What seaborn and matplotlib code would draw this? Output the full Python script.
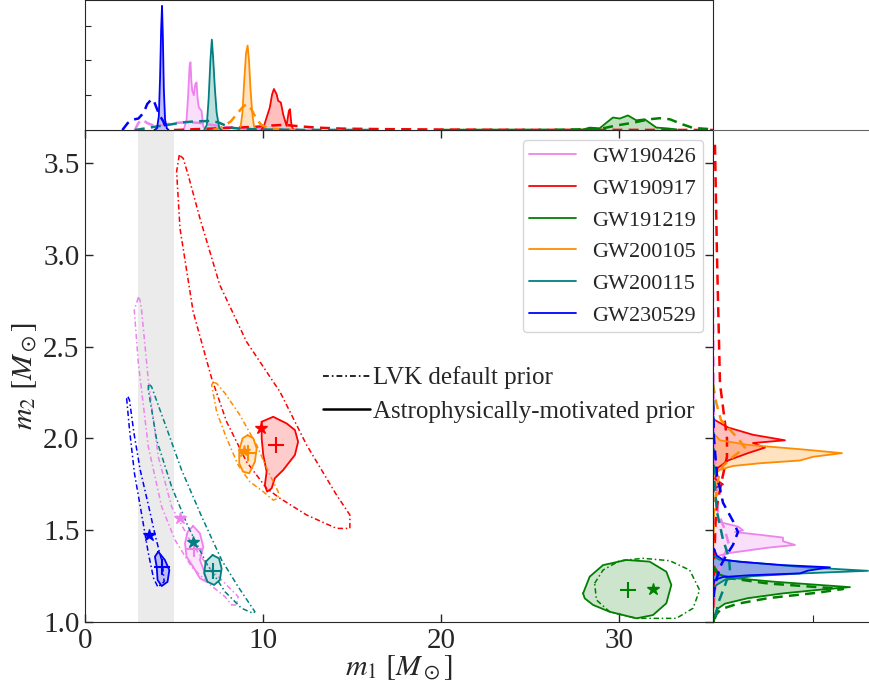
import numpy as np
import matplotlib
matplotlib.use('Agg')
import matplotlib.pyplot as plt
import seaborn as sns
from matplotlib.lines import Line2D

sns.set_style('ticks')
plt.rcParams['font.family'] = ['Liberation Serif', 'DejaVu Serif']
plt.rcParams['mathtext.fontset'] = 'stix'

# ---------------- data ----------------
events = ['GW190426', 'GW190917', 'GW191219', 'GW200105', 'GW200115', 'GW230529']
colors = ['violet', 'red', 'green', 'darkorange', 'teal', 'blue']

# 90% credible contours (m1, m2) - astrophysically-motivated prior (solid, filled)
astro_m1 = {
    'GW190426': [6.08, 6.46, 6.65, 6.46, 6.74, 6.83, 6.46, 6.08, 5.71, 5.62, 5.77],
    'GW190917': [9.93, 10.58, 11.33, 11.80, 11.98, 11.80, 11.14, 10.67, 10.49, 10.24, 10.11, 10.21, 10.02, 9.93],
    'GW191219': [28.0, 28.37, 29.12, 30.43, 31.74, 32.68, 32.96, 32.68, 31.93, 31.0, 29.49, 28.56, 28.09],
    'GW200105': [9.14, 9.46, 9.65, 9.55, 9.23, 8.89, 8.67, 8.67, 8.86],
    'GW200115': [7.17, 7.53, 7.68, 7.58, 7.26, 6.89, 6.70, 6.78],
    'GW230529': [4.12, 4.49, 4.74, 4.64, 4.31, 4.08, 4.03, 3.93],
}
astro_m2 = {
    'GW190426': [1.523, 1.483, 1.410, 1.338, 1.265, 1.219, 1.238, 1.301, 1.356, 1.429, 1.492],
    'GW190917': [2.091, 2.118, 2.082, 2.046, 1.982, 1.910, 1.828, 1.783, 1.728, 1.710, 1.746, 1.819, 1.910, 2.001],
    'GW191219': [1.156, 1.247, 1.310, 1.338, 1.329, 1.274, 1.202, 1.102, 1.038, 1.020, 1.056, 1.093, 1.129],
    'GW200105': [2.018, 2.001, 1.946, 1.873, 1.810, 1.819, 1.864, 1.937, 2.001],
    'GW200115': [1.365, 1.347, 1.292, 1.229, 1.202, 1.219, 1.265, 1.328],
    'GW230529': [1.383, 1.338, 1.283, 1.219, 1.196, 1.229, 1.301, 1.356],
}
# 90% credible contours - LVK default prior (dash-dot)
lvk_m1 = {
    'GW190426': [3.00, 2.77, 3.00, 3.56, 4.31, 5.06, 5.99, 6.93, 7.87, 8.24, 8.52, 8.61, 7.68, 6.93, 5.99, 4.87, 4.12, 3.56, 3.18, 3.09],
    'GW190917': [5.30, 5.15, 5.34, 6.08, 7.12, 7.96, 9.08, 10.21, 10.96, 12.46, 14.14, 14.89, 14.89, 14.14, 12.46, 10.96, 9.08, 7.58, 6.46, 5.80, 5.52],
    'GW191219': [28.65, 29.12, 30.06, 31.37, 32.87, 33.99, 34.55, 34.18, 33.24, 31.0, 29.49, 28.75],
    'GW200105': [7.21, 7.12, 7.40, 7.96, 8.61, 9.27, 10.02, 10.58, 10.86, 10.86, 10.39, 9.65, 8.71, 7.87, 7.40],
    'GW200115': [3.56, 3.56, 4.03, 4.87, 5.80, 6.83, 7.87, 8.80, 9.46, 9.55, 8.61, 7.68, 6.56, 5.43, 4.49, 3.74, 3.60],
    'GW230529': [2.34, 2.50, 2.78, 3.25, 3.55, 3.85, 4.10, 4.45, 4.35, 3.95, 3.65, 3.10, 2.75, 2.50, 2.40],
}
lvk_m2 = {
    'GW190426': [2.768, 2.699, 2.409, 1.955, 1.628, 1.447, 1.301, 1.211, 1.138, 1.093, 1.093, 1.138, 1.229, 1.301, 1.429, 1.628, 1.900, 2.318, 2.699, 2.754],
    'GW190917': [3.544, 3.453, 3.144, 2.690, 2.327, 2.091, 1.873, 1.728, 1.674, 1.583, 1.510, 1.510, 1.583, 1.692, 1.964, 2.254, 2.527, 2.835, 3.199, 3.435, 3.526],
    'GW191219': [1.211, 1.283, 1.334, 1.347, 1.334, 1.283, 1.174, 1.075, 1.020, 1.020, 1.056, 1.120],
    'GW200105': [2.306, 2.291, 2.145, 2.001, 1.855, 1.764, 1.710, 1.664, 1.674, 1.710, 1.801, 1.964, 2.127, 2.246, 2.300],
    'GW200115': [2.291, 2.264, 1.991, 1.737, 1.519, 1.320, 1.165, 1.075, 1.047, 1.056, 1.192, 1.338, 1.574, 1.828, 2.082, 2.282, 2.296],
    'GW230529': [2.218, 2.05, 1.81, 1.55, 1.38, 1.24, 1.19, 1.22, 1.32, 1.47, 1.60, 1.83, 2.03, 2.21, 2.23],
}
# medians: astro (+), LVK (*)
astro_med_m1 = [6.15, 10.73, 30.52, 9.14, 7.17, 4.31]
astro_med_m2 = [1.40, 1.964, 1.174, 1.919, 1.278, 1.298]
lvk_med_m1 = [5.34, 9.89, 31.93, 8.95, 6.08, 3.60]
lvk_med_m2 = [1.565, 2.058, 1.178, 1.93, 1.437, 1.474]

# marginal of m1 (top panel)
top_astro_x = {
    'GW190426': [5.55, 5.71, 5.80, 5.88, 5.93, 5.98, 6.03, 6.12, 6.20, 6.27, 6.33, 6.40, 6.55, 6.65, 6.80],
    'GW190917': [9.90, 10.05, 10.21, 10.39, 10.52, 10.62, 10.77, 10.86, 11.01, 11.14, 11.33, 11.46, 11.52, 11.61, 11.70, 11.80],
    'GW191219': [27.90, 28.37, 28.93, 29.31, 29.68, 30.06, 30.52, 30.99, 31.46, 32.12, 32.68, 33.24],
    'GW200105': [8.60, 8.75, 8.85, 8.95, 9.05, 9.14, 9.22, 9.30, 9.40, 9.50, 9.65],
    'GW200115': [6.70, 6.85, 6.95, 7.05, 7.13, 7.20, 7.30, 7.40, 7.55, 7.70],
    'GW230529': [3.90, 4.05, 4.15, 4.22, 4.28, 4.33, 4.38, 4.43, 4.50, 4.60, 4.70],
}
top_astro_y = {
    'GW190426': [0, 0.30, 1.00, 1.85, 1.95, 1.40, 1.13, 1.00, 1.32, 1.37, 0.90, 0.65, 0.55, 0.10, 0],
    'GW190917': [0, 0.10, 0.36, 0.65, 1.03, 1.18, 1.03, 0.84, 0.79, 0.45, 0.12, 0.55, 0.60, 0.12, 0.03, 0],
    'GW191219': [0, 0.07, 0.05, 0.21, 0.36, 0.33, 0.42, 0.28, 0.31, 0.07, 0.05, 0.02],
    'GW200105': [0, 0.10, 0.50, 1.40, 2.20, 2.43, 2.00, 1.20, 0.50, 0.10, 0],
    'GW200115': [0, 0.15, 0.90, 2.00, 2.60, 2.10, 1.20, 0.50, 0.05, 0],
    'GW230529': [0, 0.05, 0.40, 1.50, 2.90, 3.57, 2.60, 1.20, 0.30, 0.05, 0],
}
top_lvk_x = {
    'GW190426': [2.8, 3.0, 3.2, 3.5, 3.8, 4.3, 5.0, 5.8, 6.5, 7.2, 8.0, 9.0, 10.5, 13.0],
    'GW190917': [5, 6, 7, 8, 9, 9.8, 10.5, 11.2, 12, 13, 14.5, 17, 20, 25, 35.3],
    'GW191219': [20.0, 26.0, 28.93, 29.87, 30.80, 31.74, 32.30, 32.87, 33.61, 34.18, 35.3],
    'GW200105': [7.2, 7.7, 8.2, 8.6, 8.9, 9.1, 9.35, 9.6, 9.9, 10.3, 11.0, 12.0],
    'GW200115': [2.8, 3.3, 4.0, 4.8, 5.5, 6.2, 7.0, 7.5, 7.9, 8.3, 9.0, 10.0, 12.0, 16.0],
    'GW230529': [2.1, 2.4, 2.7, 3.0, 3.3, 3.5, 3.75, 3.9, 4.05, 4.2, 4.4, 4.6],
}
top_lvk_y = {
    'GW190426': [0, 0.20, 0.31, 0.20, 0.14, 0.14, 0.20, 0.23, 0.20, 0.14, 0.08, 0.04, 0.015, 0],
    'GW190917': [0, 0.02, 0.04, 0.06, 0.08, 0.10, 0.13, 0.15, 0.11, 0.07, 0.04, 0.025, 0.015, 0.006, 0.002],
    'GW191219': [0, 0.005, 0.03, 0.13, 0.21, 0.31, 0.34, 0.31, 0.16, 0.06, 0.02],
    'GW200105': [0, 0.08, 0.25, 0.50, 0.68, 0.75, 0.60, 0.35, 0.15, 0.05, 0.01, 0],
    'GW200115': [0, 0.04, 0.10, 0.16, 0.22, 0.25, 0.26, 0.22, 0.13, 0.06, 0.03, 0.015, 0.005, 0],
    'GW230529': [0, 0.20, 0.30, 0.33, 0.50, 0.75, 0.89, 0.80, 0.60, 0.42, 0.25, 0],
}

# marginal of m2 (right panel)
right_astro_m2 = {
    'GW190426': [1.56, 1.54, 1.52, 1.50, 1.49, 1.475, 1.46, 1.44, 1.42, 1.405, 1.39, 1.375, 1.36, 1.34],
    'GW190917': [2.10, 2.06, 2.02, 1.99, 1.975, 1.95, 1.92, 1.88, 1.84, 1.78, 1.75, 1.73, 1.70],
    'GW191219': [1.29, 1.26, 1.24, 1.22, 1.19, 1.175, 1.156, 1.13, 1.10, 1.07, 1.04, 1.0],
    'GW200105': [2.03, 1.99, 1.965, 1.94, 1.92, 1.90, 1.88, 1.865, 1.85, 1.83, 1.80, 1.78],
    'GW200115': [1.36, 1.34, 1.325, 1.30, 1.279, 1.265, 1.25, 1.23, 1.20, 1.17],
    'GW230529': [1.40, 1.36, 1.34, 1.328, 1.31, 1.298, 1.28, 1.265, 1.255, 1.245, 1.23, 1.20],
}
right_astro_d = {
    'GW190426': [0.02, 0.10, 0.25, 0.30, 0.22, 0.47, 0.70, 0.70, 0.82, 0.55, 0.35, 0.15, 0.05, 0],
    'GW190917': [0.02, 0.15, 0.40, 0.72, 0.40, 0.52, 0.35, 0.15, 0.05, 0.02, 0.10, 0.02, 0],
    'GW191219': [0, 0.05, 0.20, 0.60, 1.37, 1.05, 0.70, 0.35, 0.12, 0.04, 0.02, 0.01],
    'GW200105': [0, 0.07, 0.35, 0.90, 1.29, 1.00, 0.87, 0.47, 0.20, 0.07, 0.01, 0],
    'GW200115': [0.01, 0.06, 0.35, 0.87, 1.55, 0.90, 0.40, 0.12, 0.03, 0],
    'GW230529': [0.01, 0.04, 0.10, 0.27, 0.70, 1.17, 0.95, 0.87, 0.37, 0.10, 0.02, 0],
}
right_lvk_m2 = {
    'GW190426': [2.8, 2.0, 1.6, 1.5, 1.42, 1.35, 1.25, 1.1, 1.0],
    'GW190917': [3.6, 3.0, 2.3, 2.0, 1.9, 1.75, 1.6, 1.3, 1.0],
    'GW191219': [1.30, 1.26, 1.24, 1.21, 1.18, 1.16, 1.13, 1.10, 1.07, 1.04, 1.0],
    'GW200105': [2.3, 2.2, 2.1, 2.0, 1.95, 1.9, 1.85, 1.8, 1.7, 1.6, 1.4],
    'GW200115': [2.3, 1.8, 1.6, 1.45, 1.35, 1.28, 1.2, 1.1, 1.0],
    'GW230529': [2.2, 2.0, 1.8, 1.65, 1.55, 1.49, 1.42, 1.35, 1.3, 1.2, 1.1],
}
right_lvk_d = {
    'GW190426': [0.0, 0.01, 0.05, 0.12, 0.16, 0.10, 0.04, 0.01, 0.0],
    'GW190917': [0.02, 0.04, 0.07, 0.14, 0.14, 0.08, 0.03, 0.01, 0.0],
    'GW191219': [0.01, 0.06, 0.15, 0.55, 1.30, 1.05, 0.55, 0.25, 0.08, 0.03, 0.01],
    'GW200105': [0.0, 0.03, 0.08, 0.25, 0.32, 0.20, 0.10, 0.06, 0.03, 0.01, 0.0],
    'GW200115': [0.0, 0.01, 0.04, 0.10, 0.16, 0.17, 0.12, 0.05, 0.02],
    'GW230529': [0.0, 0.01, 0.04, 0.10, 0.20, 0.25, 0.20, 0.12, 0.07, 0.02, 0.0],
}

x_ticks = [0, 10, 20, 30]
y_ticks = [1.0, 1.5, 2.0, 2.5, 3.0, 3.5]
m1_range = (0, 35.3)
m2_range = (1.0, 3.68)
lvk_dash = (0, (3.5, 1.8, 1.0, 1.8))

# ---------------- figure ----------------
fig = plt.figure(figsize=(8.7, 6.88), dpi=100)
ax = fig.add_axes([0.0977, 0.0959, 0.7218, 0.7151])
axt = fig.add_axes([0.0977, 0.811, 0.7218, 0.189])
axr = fig.add_axes([0.8195, 0.0959, 0.1805, 0.7151])

ax.axvspan(3, 5, color='0.92', lw=0, zorder=0)

for i, ev in enumerate(events):
    c = colors[i]
    # astro contour
    xs = list(astro_m1[ev]) + [astro_m1[ev][0]]
    ys = list(astro_m2[ev]) + [astro_m2[ev][0]]
    ax.fill(xs, ys, color=c, alpha=0.2, lw=0, zorder=2)
    sns.lineplot(x=xs, y=ys, sort=False, estimator=None, color=c, lw=1.3, ax=ax, legend=False, zorder=3)
    # LVK contour
    xl = list(lvk_m1[ev]) + [lvk_m1[ev][0]]
    yl = list(lvk_m2[ev]) + [lvk_m2[ev][0]]
    sns.lineplot(x=xl, y=yl, sort=False, estimator=None, color=c, lw=1.1, linestyle=lvk_dash,
                 ax=ax, legend=False, zorder=3)
    ax.plot(astro_med_m1[i], astro_med_m2[i], marker='+', ms=11, mew=1.5, color=c, ls='none', zorder=4)
    ax.plot(lvk_med_m1[i], lvk_med_m2[i], marker='*', ms=9, color=c, ls='none', zorder=4)

    # top marginal
    tx, ty = top_astro_x[ev], top_astro_y[ev]
    axt.fill_between(tx, 0, ty, color=c, alpha=0.25, lw=0)
    sns.lineplot(x=tx, y=ty, sort=False, estimator=None, color=c, lw=1.3, ax=axt, legend=False)
    sns.lineplot(x=top_lvk_x[ev], y=top_lvk_y[ev], sort=False, estimator=None, color=c, lw=1.8,
                 linestyle=(0, (4, 2.5)), ax=axt, legend=False)

    # right marginal
    rm, rd = right_astro_m2[ev], right_astro_d[ev]
    axr.fill_betweenx(rm, 0, rd, color=c, alpha=0.25, lw=0)
    sns.lineplot(x=rd, y=rm, sort=False, estimator=None, color=c, lw=1.3, ax=axr, legend=False)
    sns.lineplot(x=right_lvk_d[ev], y=right_lvk_m2[ev], sort=False, estimator=None, color=c, lw=1.8,
                 linestyle=(0, (4, 2.5)), ax=axr, legend=False)

ax.set_xlim(*m1_range)
ax.set_ylim(*m2_range)
ax.set_xticks(x_ticks)
ax.set_yticks(y_ticks)
ax.set_yticklabels([f'{v:.1f}' for v in y_ticks])
ax.tick_params(direction='in', top=True, right=True, labelsize=21, length=6, width=1, pad=4)
ax.set_xlabel(r'$m_1\ [M_\odot]$', fontsize=21.5, labelpad=0)
ax.set_ylabel(r'$m_2\ [M_\odot]$', fontsize=21.5, labelpad=2)

axt.set_xlim(*m1_range)
axt.set_ylim(0, 3.74)
axt.set_yticks([1, 2, 3])
axt.set_xticks([])
axt.tick_params(direction='in', labelleft=False, length=4)

axr.set_ylim(*m2_range)
axr.set_xlim(0, 1.57)
axr.set_xticks([1])
axr.set_yticks([])
axr.tick_params(direction='in', labelbottom=False, length=5)
axr.spines['top'].set_color('0.4')
axr.spines['right'].set_visible(False)

handles = [Line2D([0], [0], color=c, lw=1.3) for c in colors]
leg1 = ax.legend(handles, events, loc='upper right', fontsize=16, handlelength=2.1,
                 borderaxespad=0.45, borderpad=0.3, labelspacing=0.5, handletextpad=0.75)
ax.add_artist(leg1)
h2 = [Line2D([0], [0], color='k', lw=1.2, linestyle=lvk_dash),
      Line2D([0], [0], color='k', lw=1.8)]
ax.legend(h2, ['LVK default prior', 'Astrophysically-motivated prior'], loc='center left',
          bbox_to_anchor=(0.3425, 0.462), frameon=False, fontsize=18, handlelength=1.9,
          handletextpad=0.1, labelspacing=0.45)

fig.savefig('out.png', dpi=100)
